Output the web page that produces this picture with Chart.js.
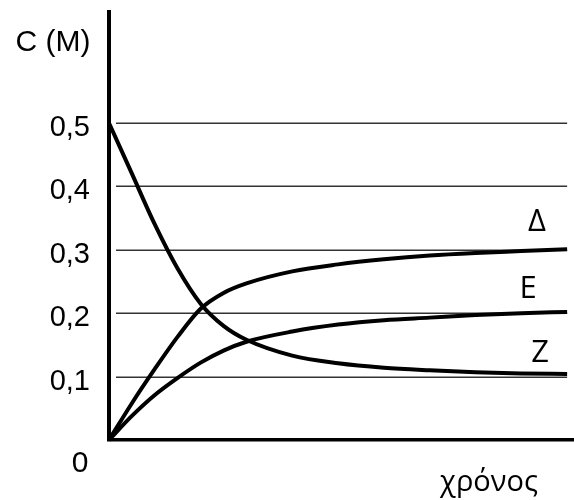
<!DOCTYPE html>
<html>
<head>
<meta charset="utf-8">
<script src="https://cdn.jsdelivr.net/npm/chart.js@4/dist/chart.umd.min.js"></script>
<style>
html,body{margin:0;padding:0;background:#fff;}
#wrap{width:574px;height:500px;}
</style>
</head>
<body>
<div id="wrap"><canvas id="c" width="574" height="500"></canvas></div>
<script>
// time points (arbitrary units along "χρόνος")
const timePoints = [0, 0.5, 1, 1.5, 2, 2.5, 3, 4, 5, 6, 7, 8, 9, 10];
// concentrations C (M)
const seriesZ     = [0.5, 0.42, 0.34, 0.27, 0.215, 0.18, 0.158, 0.133, 0.121, 0.114, 0.110, 0.107, 0.105, 0.104];
const seriesDelta = [0, 0.058, 0.112, 0.163, 0.207, 0.232, 0.247, 0.266, 0.277, 0.285, 0.291, 0.295, 0.298, 0.301];
const seriesE     = [0, 0.038, 0.071, 0.098, 0.122, 0.141, 0.155, 0.171, 0.182, 0.189, 0.193, 0.197, 0.200, 0.202];
const yTickValues = [0.1, 0.2, 0.3, 0.4, 0.5];
const seriesLabels = ['Δ', 'E', 'Z'];
const yAxisTitle = 'C (M)';
const xAxisTitle = 'χρόνος';
const originLabel = '0';

const toPts = arr => arr.map((v, i) => ({x: timePoints[i], y: v}));
const lastT = timePoints[timePoints.length - 1];

const annot = {
  id: 'annot',
  beforeDatasetsDraw(chart) {
    const {ctx, scales: {x, y}, chartArea} = chart;
    ctx.save();
    ctx.strokeStyle = '#333';
    ctx.lineWidth = 1.5;
    yTickValues.forEach(v => {
      const py = Math.round(y.getPixelForValue(v)) + 0.25;
      ctx.beginPath();
      ctx.moveTo(chartArea.left + 7, py);
      ctx.lineTo(x.getPixelForValue(lastT), py);
      ctx.stroke();
    });
    ctx.restore();
  },
  afterDraw(chart) {
    const {ctx, scales: {x, y}} = chart;
    ctx.save();
    ctx.fillStyle = '#000';
    ctx.textAlign = 'center';
    ctx.textBaseline = 'middle';
    ctx.font = '30px "Liberation Sans", Arial, sans-serif';
    ctx.fillText(yAxisTitle, 53, 43);
    ctx.fillText(originLabel, 80, y.getPixelForValue(0) + 24);
    ctx.font = '29px "Open Sans", sans-serif';
    ctx.fillText(xAxisTitle, 489, 483);
    ctx.font = '31px "Open Sans", sans-serif';
    ctx.fillText(seriesLabels[0], x.getPixelForValue(9.34), y.getPixelForValue(0.344));
    ctx.fillText(seriesLabels[1], x.getPixelForValue(9.15), y.getPixelForValue(0.238));
    ctx.fillText(seriesLabels[2], x.getPixelForValue(9.41), y.getPixelForValue(0.137));
    ctx.restore();
  }
};

const lineDs = (label, arr) => ({
  label, data: toPts(arr),
  borderColor: '#000', borderWidth: 4, pointRadius: 0,
  fill: false, cubicInterpolationMode: 'monotone', clip: false
});

const noPad = s => { s.paddingTop = 0; s.paddingBottom = 0; s.paddingLeft = 0; s.paddingRight = 0; };

new Chart(document.getElementById('c'), {
  type: 'line',
  data: {
    datasets: [
      lineDs(seriesLabels[2], seriesZ),
      lineDs(seriesLabels[0], seriesDelta),
      lineDs(seriesLabels[1], seriesE)
    ]
  },
  options: {
    responsive: false,
    devicePixelRatio: 1,
    animation: false,
    layout: {padding: {top: 12, right: 0, left: 0, bottom: 0}},
    plugins: {legend: {display: false}, tooltip: {enabled: false}},
    scales: {
      x: {
        type: 'linear', min: 0, max: 10.15,
        grid: {display: false, drawTicks: false},
        border: {display: true, color: '#000', width: 3.5},
        ticks: {display: false},
        afterFit: s => { s.height = 60; noPad(s); }
      },
      y: {
        type: 'linear', min: 0, max: 0.675,
        grid: {display: false, drawTicks: false},
        border: {display: true, color: '#000', width: 4},
        afterBuildTicks: s => { s.ticks = yTickValues.map(v => ({value: v})); },
        ticks: {
          color: '#000',
          font: {family: '"Liberation Sans", Arial, sans-serif', size: 29},
          padding: 19,
          labelOffset: 5,
          callback: v => String(v).replace('.', ',')
        },
        afterFit: s => { s.width = 109; noPad(s); }
      }
    }
  },
  plugins: [annot]
});
</script>
</body>
</html>
